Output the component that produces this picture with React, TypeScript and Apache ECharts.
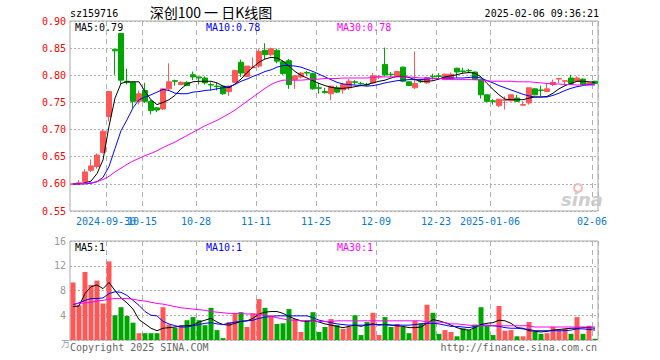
import React, { useEffect, useRef } from 'react';
import * as echarts from 'echarts';

const DATES = [
  '2024-09-20','2024-09-23','2024-09-24','2024-09-25','2024-09-26','2024-09-27','2024-09-30',
  '2024-10-08','2024-10-09','2024-10-10','2024-10-11','2024-10-14','2024-10-15','2024-10-16','2024-10-17','2024-10-18',
  '2024-10-21','2024-10-22','2024-10-23','2024-10-24','2024-10-25','2024-10-28','2024-10-29','2024-10-30','2024-10-31',
  '2024-11-01','2024-11-04','2024-11-05','2024-11-06','2024-11-07','2024-11-08','2024-11-11','2024-11-12','2024-11-13',
  '2024-11-14','2024-11-15','2024-11-18','2024-11-19','2024-11-20','2024-11-21','2024-11-22','2024-11-25','2024-11-26',
  '2024-11-27','2024-11-28','2024-11-29',
  '2024-12-02','2024-12-03','2024-12-04','2024-12-05','2024-12-06','2024-12-09','2024-12-10','2024-12-11','2024-12-12',
  '2024-12-13','2024-12-16','2024-12-17','2024-12-18','2024-12-19','2024-12-20','2024-12-23','2024-12-24','2024-12-25',
  '2024-12-26','2024-12-27','2024-12-30','2024-12-31',
  '2025-01-02','2025-01-03','2025-01-06','2025-01-07','2025-01-08','2025-01-09','2025-01-10','2025-01-13','2025-01-14',
  '2025-01-15','2025-01-16','2025-01-17','2025-01-20','2025-01-21','2025-01-22','2025-01-23','2025-01-24','2025-01-27',
  '2025-02-05','2025-02-06',
];

const OPEN = [
  0.599,0.600,0.604,0.625,0.632,0.658,0.724,0.848,0.877,0.789,0.787,0.752,0.772,0.752,0.740,0.738,0.775,0.790,0.783,0.787,
  0.801,0.797,0.795,0.783,0.780,0.780,0.770,0.787,0.824,0.798,0.814,0.817,0.846,0.838,0.846,0.825,0.827,0.792,0.797,0.805,
  0.803,0.777,0.770,0.766,0.777,0.773,0.777,0.788,0.785,0.783,0.786,0.797,0.820,0.802,0.799,0.815,0.788,0.777,0.789,0.786,
  0.798,0.799,0.792,0.794,0.813,0.808,0.809,0.806,0.792,0.764,0.753,0.744,0.754,0.753,0.758,0.745,0.749,0.775,0.773,0.770,
  0.783,0.793,0.789,0.795,0.789,0.793,0.783,0.789,
];
const CLOSE = [
  0.600,0.602,0.622,0.633,0.653,0.697,0.770,0.845,0.791,0.787,0.752,0.766,0.752,0.735,0.736,0.775,0.788,0.789,0.787,0.781,
  0.797,0.795,0.786,0.782,0.779,0.766,0.780,0.809,0.804,0.817,0.815,0.844,0.838,0.849,0.826,0.803,0.783,0.799,0.804,0.804,
  0.775,0.776,0.768,0.780,0.769,0.783,0.789,0.787,0.784,0.782,0.799,0.798,0.801,0.801,0.807,0.789,0.781,0.785,0.788,0.796,
  0.797,0.798,0.802,0.802,0.806,0.807,0.808,0.792,0.764,0.752,0.752,0.756,0.755,0.764,0.752,0.746,0.777,0.764,0.772,0.775,
  0.787,0.794,0.790,0.785,0.795,0.783,0.786,0.785,
];
const LOW = [
  0.598,0.599,0.602,0.622,0.628,0.656,0.715,0.801,0.783,0.783,0.740,0.746,0.749,0.728,0.732,0.736,0.773,0.781,0.782,0.780,
  0.791,0.783,0.783,0.772,0.772,0.764,0.762,0.786,0.797,0.797,0.814,0.814,0.830,0.835,0.822,0.801,0.775,0.775,0.794,0.799,
  0.773,0.766,0.766,0.754,0.767,0.766,0.773,0.783,0.780,0.780,0.785,0.793,0.798,0.797,0.798,0.787,0.780,0.775,0.786,0.784,
  0.792,0.793,0.791,0.793,0.795,0.803,0.804,0.792,0.757,0.750,0.746,0.741,0.737,0.752,0.751,0.744,0.746,0.763,0.762,0.770,
  0.780,0.786,0.782,0.783,0.788,0.782,0.782,0.784,
];
const HIGH = [
  0.601,0.607,0.627,0.645,0.656,0.700,0.771,0.848,0.878,0.812,0.788,0.772,0.786,0.755,0.741,0.775,0.822,0.792,0.789,0.789,
  0.807,0.797,0.798,0.787,0.786,0.781,0.781,0.810,0.829,0.817,0.833,0.848,0.859,0.851,0.849,0.827,0.830,0.800,0.806,0.808,
  0.805,0.786,0.777,0.780,0.781,0.786,0.793,0.791,0.788,0.786,0.804,0.800,0.851,0.806,0.808,0.816,0.789,0.844,0.793,0.797,
  0.803,0.804,0.803,0.805,0.814,0.814,0.812,0.807,0.792,0.765,0.756,0.756,0.761,0.765,0.764,0.752,0.777,0.776,0.781,0.784,
  0.792,0.794,0.790,0.801,0.798,0.794,0.787,0.790,
];

const MA5 = [
  0.600,0.600,0.602,0.605,0.619,0.644,0.706,0.758,0.785,0.788,0.788,0.788,0.770,0.755,0.746,0.750,0.755,0.763,0.775,0.784,
  0.788,0.789,0.789,0.789,0.786,0.780,0.777,0.784,0.793,0.805,0.815,0.824,0.830,0.833,0.832,0.826,0.817,0.807,0.800,0.795,
  0.790,0.785,0.781,0.778,0.776,0.776,0.777,0.779,0.781,0.783,0.786,0.789,0.791,0.795,0.798,0.798,0.796,0.792,0.789,0.789,
  0.790,0.793,0.797,0.799,0.801,0.804,0.805,0.804,0.797,0.785,0.774,0.764,0.756,0.755,0.755,0.755,0.758,0.760,0.760,0.761,
  0.767,0.775,0.781,0.785,0.789,0.789,0.788,0.787,
];
const MA10 = [
  0.600,0.600,0.600,0.601,0.604,0.612,0.632,0.665,0.698,0.718,0.740,0.755,0.760,0.764,0.769,0.774,0.772,0.767,0.766,0.766,
  0.769,0.770,0.772,0.773,0.775,0.777,0.779,0.783,0.789,0.793,0.798,0.802,0.807,0.810,0.815,0.818,0.818,0.817,0.815,0.811,
  0.807,0.802,0.797,0.792,0.787,0.784,0.783,0.782,0.781,0.780,0.781,0.783,0.786,0.788,0.790,0.791,0.792,0.792,0.792,0.793,
  0.794,0.794,0.795,0.795,0.795,0.795,0.796,0.797,0.795,0.790,0.786,0.781,0.777,0.773,0.769,0.765,0.762,0.760,0.760,0.760,
  0.763,0.767,0.772,0.776,0.779,0.781,0.783,0.784,
];
const MA30 = [
  0.600,0.600,0.601,0.602,0.604,0.608,0.614,0.622,0.629,0.636,0.642,0.647,0.652,0.656,0.661,0.667,0.672,0.677,0.683,0.689,
  0.695,0.701,0.707,0.712,0.717,0.723,0.729,0.736,0.744,0.752,0.760,0.768,0.776,0.783,0.788,0.791,0.791,0.791,0.791,0.792,
  0.792,0.793,0.794,0.794,0.794,0.795,0.795,0.795,0.795,0.795,0.796,0.797,0.797,0.797,0.797,0.797,0.797,0.796,0.795,0.795,
  0.794,0.794,0.793,0.792,0.792,0.792,0.792,0.792,0.791,0.790,0.789,0.789,0.789,0.789,0.788,0.788,0.788,0.787,0.786,0.785,
  0.784,0.784,0.783,0.783,0.782,0.782,0.782,0.782,
];

const VOLUME = [
  9.3,5.6,11.0,8.9,9.6,5.9,12.7,4.0,5.3,3.9,2.8,1.1,1.1,1.1,1.1,5.3,2.5,2.0,2.3,3.2,
  3.7,3.2,2.4,5.2,1.6,0.3,2.9,4.3,4.5,2.1,4.3,6.6,5.2,4.0,2.6,2.7,5.0,3.4,1.3,3.2,
  4.5,1.3,2.1,3.4,2.4,1.8,2.1,4.0,0.8,2.9,4.4,0.8,3.7,2.1,2.6,2.1,1.1,3.1,2.7,5.7,
  4.4,1.0,1.6,1.3,0.6,1.9,1.6,2.5,5.3,2.3,0.8,5.5,1.5,1.6,0.6,0.6,2.9,1.3,1.0,1.1,
  2.1,1.5,1.8,1.0,3.7,1.0,2.3,0.2,
];
const VOL_MA5 = [
  5.4,5.5,7.5,8.6,8.9,8.3,9.3,8.0,6.8,6.0,5.0,3.3,2.6,1.9,1.5,1.9,2.0,2.1,2.3,2.3,
  2.4,2.9,3.2,3.5,2.9,2.5,2.4,2.7,3.0,3.1,3.5,4.2,4.5,4.6,4.6,4.3,3.8,3.4,3.1,3.0,
  3.2,2.9,2.6,2.4,2.2,2.0,2.2,2.4,2.2,2.5,2.6,2.4,2.5,2.4,2.3,2.2,2.0,2.0,2.1,2.7,
  3.3,3.1,2.8,2.4,2.0,1.7,1.6,2.0,2.5,2.7,2.8,3.2,3.1,2.7,2.0,1.9,1.5,1.4,1.3,1.4,
  1.6,1.7,1.8,1.9,1.9,2.0,2.0,1.9,
];
const VOL_MA10 = [
  5.7,6.0,6.4,6.7,6.7,6.8,7.5,7.8,7.7,7.2,6.4,5.6,4.6,4.0,3.9,3.0,2.6,2.3,2.1,2.1,
  2.3,2.5,2.7,2.8,2.6,2.5,2.7,2.9,3.0,3.1,3.2,3.5,3.7,3.8,3.9,3.9,3.9,3.9,3.9,3.9,
  3.6,3.2,3.0,2.8,2.6,2.5,2.4,2.4,2.4,2.4,2.5,2.5,2.5,2.4,2.4,2.4,2.4,2.5,2.6,2.7,
  2.7,2.6,2.4,2.2,2.2,2.1,2.0,2.2,2.4,2.4,2.3,2.2,2.0,1.9,1.9,1.8,1.7,1.5,1.5,1.5,
  1.5,1.5,1.5,1.6,1.8,1.8,1.7,1.6,
];
const VOL_MA30 = [
  5.8,5.9,6.0,6.1,6.3,6.4,6.6,6.7,6.7,6.7,6.6,6.4,6.3,6.1,5.9,5.8,5.6,5.4,5.2,5.1,
  5.0,4.9,4.8,4.6,4.5,4.4,4.3,4.3,4.3,4.2,4.2,4.1,4.0,3.8,3.6,3.4,3.2,3.2,3.1,3.1,
  3.1,3.0,3.0,3.0,3.1,3.1,3.1,3.1,3.1,3.1,3.1,3.1,3.1,3.1,3.1,3.1,3.1,3.1,3.1,2.9,
  2.9,2.9,2.8,2.6,2.6,2.5,2.4,2.3,2.3,2.3,2.3,2.3,2.3,2.3,2.3,2.3,2.3,2.1,2.1,2.1,
  2.1,2.1,2.1,2.1,2.1,2.1,2.1,2.1,
];

// Tick dates and their labels; the second list is drawn on an overlay axis so
// that it may overlap the first (as in the reference).
const TICK_DATES = ['2024-09-30','2024-10-15','2024-10-28','2024-11-11','2024-11-25','2024-12-09','2024-12-23','2025-01-06','2025-02-06'];
const TICK_LABELS = ['2024-09-30','10-15','10-28','11-11','11-25','12-09','12-23','2025-01-06','02-06'];
const OVERLAY_TICK_DATES = ['2024-10-15'];

const PRICE_MIN = 0.55;
const PRICE_MAX = 0.9;
const PRICE_STEP = 0.05;
const VOL_MIN = 0;
const VOL_MAX = 16;
const VOL_STEP = 4;

const MONO = '"DejaVu Sans Mono", "Liberation Mono", monospace';
const RED = '#ff5656';
const GREEN = '#00a600';
const GRID_LINE = '#b0b0b0';

export default function App() {
  const ref = useRef<HTMLDivElement>(null);

  useEffect(() => {
    document.body.style.margin = '0';
    if (!ref.current) return;
    const chart = echarts.init(ref.current, undefined, { renderer: 'svg' });

    const isTick = (_i: number, v: string) => TICK_DATES.indexOf(v) >= 0;
    const isMainLabel = (_i: number, v: string) => TICK_DATES.indexOf(v) >= 0 && OVERLAY_TICK_DATES.indexOf(v) < 0;
    const isOverlayLabel = (_i: number, v: string) => OVERLAY_TICK_DATES.indexOf(v) >= 0;
    const candles = DATES.map((_, i) => [OPEN[i], CLOSE[i], LOW[i], HIGH[i]]);
    const volData = VOLUME.map((v, i) => ({
      value: v,
      itemStyle: { color: CLOSE[i] >= OPEN[i] ? RED : GREEN },
    }));

    const txt = (text: string, x: number, y: number, fill: string, align = 'left', size = 10, family = MONO, extra: any = {}) => ({
      type: 'text',
      silent: true,
      z: 100,
      style: {
        text, x, y, fill,
        fontSize: size, fontFamily: family,
        align, textAlign: align, verticalAlign: 'middle', textVerticalAlign: 'middle',
        ...extra,
      },
    });

    const lineSeries = (name: string, data: number[], color: string, idx: number) => ({
      name,
      type: 'line',
      xAxisIndex: idx,
      yAxisIndex: idx,
      data,
      symbol: 'none',
      smooth: false,
      lineStyle: { color, width: 1 },
      z: 5,
    });

    const labelStyle = {
      hideOverlap: false,
      formatter: (v: string) => TICK_LABELS[TICK_DATES.indexOf(v)] ?? '',
      color: '#0a78d2',
      fontFamily: MONO,
      fontSize: 10,
      margin: 5,
      padding: [0, 6, 0, 0],
    };

    const xAxisBase = (gridIndex: number, showLabel: boolean, showSplit: boolean, labelFn: any) => ({
      type: 'category',
      gridIndex,
      position: 'bottom',
      offset: 0,
      data: DATES,
      boundaryGap: true,
      axisLine: { show: false },
      axisTick: { show: false },
      axisLabel: { show: showLabel, interval: labelFn, ...labelStyle },
      splitLine: {
        show: showSplit,
        interval: isTick,
        lineStyle: { color: GRID_LINE, type: [5, 4], width: 1 },
      },
    });

    chart.setOption({
      animation: false,
      backgroundColor: '#ffffff',
      grid: [
        { left: 70, right: 62, top: 21, height: 190, show: true, borderColor: '#a8a8a8', borderWidth: 1 },
        { left: 70, right: 62, top: 241, height: 99, show: true, borderColor: '#a8a8a8', borderWidth: 1 },
      ],
      xAxis: [
        xAxisBase(0, true, true, isMainLabel),
        xAxisBase(1, false, true, isTick),
        xAxisBase(0, true, false, isOverlayLabel),
      ],
      yAxis: [
        {
          type: 'value', gridIndex: 0, min: PRICE_MIN, max: PRICE_MAX, interval: PRICE_STEP,
          axisLine: { show: false }, axisTick: { show: false },
          axisLabel: { color: '#ff0000', fontFamily: MONO, fontSize: 10, margin: 4, formatter: (v: number) => v.toFixed(2) },
          splitLine: { lineStyle: { color: GRID_LINE, type: [2, 2], width: 1 } },
        },
        {
          type: 'value', gridIndex: 1, min: VOL_MIN, max: VOL_MAX, interval: VOL_STEP,
          axisLine: { show: false }, axisTick: { show: false },
          axisLabel: { color: '#999999', fontFamily: MONO, fontSize: 10, margin: 4, formatter: (v: number) => (v === 0 ? '' : String(v)) },
          splitLine: { lineStyle: { color: GRID_LINE, type: [2, 2], width: 1 } },
        },
      ],
      series: [
        {
          name: 'K',
          type: 'candlestick',
          xAxisIndex: 0,
          yAxisIndex: 0,
          data: candles,
          barWidth: 5,
          itemStyle: { color: RED, color0: GREEN, borderColor: RED, borderColor0: GREEN, borderWidth: 1 },
          z: 3,
        },
        lineSeries('MA5', MA5, '#000000', 0),
        lineSeries('MA10', MA10, '#0000ff', 0),
        lineSeries('MA30', MA30, '#ff00ff', 0),
        {
          name: 'VOL',
          type: 'bar',
          xAxisIndex: 1,
          yAxisIndex: 1,
          data: volData,
          barWidth: 5,
          z: 3,
        },
        lineSeries('VMA5', VOL_MA5, '#000000', 1),
        lineSeries('VMA10', VOL_MA10, '#0000ff', 1),
        lineSeries('VMA30', VOL_MA30, '#ff00ff', 1),
      ],
      graphic: [
        txt('sz159716', 70, 13, '#000000'),
        txt('深创100 一 日K线图', 211, 12, '#000000', 'center', 14, '"Noto Sans CJK SC", sans-serif'),
        txt('2025-02-06 09:36:21', 599, 13, '#000000', 'right'),
        txt('MA5:0.79', 75, 27, '#000000'),
        txt('MA10:0.78', 206, 27, '#0000ff'),
        txt('MA30:0.78', 337, 27, '#ff00ff'),
        txt('MA5:1', 75, 247, '#000000'),
        txt('MA10:1', 206, 247, '#0000ff'),
        txt('MA30:1', 337, 247, '#ff00ff'),
        txt('万', 61, 343, '#999999', 'left', 9, '"Noto Sans CJK SC", sans-serif'),
        txt('Copyright 2025 SINA.COM', 70, 347, '#666666'),
        txt('http://finance.sina.com.cn', 597, 347, '#666666', 'right'),
        {
          type: 'circle', silent: true, z: 1,
          shape: { cx: 578, cy: 188, r: 4 },
          style: { fill: 'none', stroke: '#f3b8b8', lineWidth: 2 },
        },
        txt('sina', 582, 199, '#c8c8c8', 'center', 18, '"DejaVu Sans", sans-serif', { fontWeight: 'bold', fontStyle: 'italic', opacity: 0.9 }),
      ],
    });

    return () => chart.dispose();
  }, []);

  return <div ref={ref} style={{ width: 660, height: 360 }} />;
}
